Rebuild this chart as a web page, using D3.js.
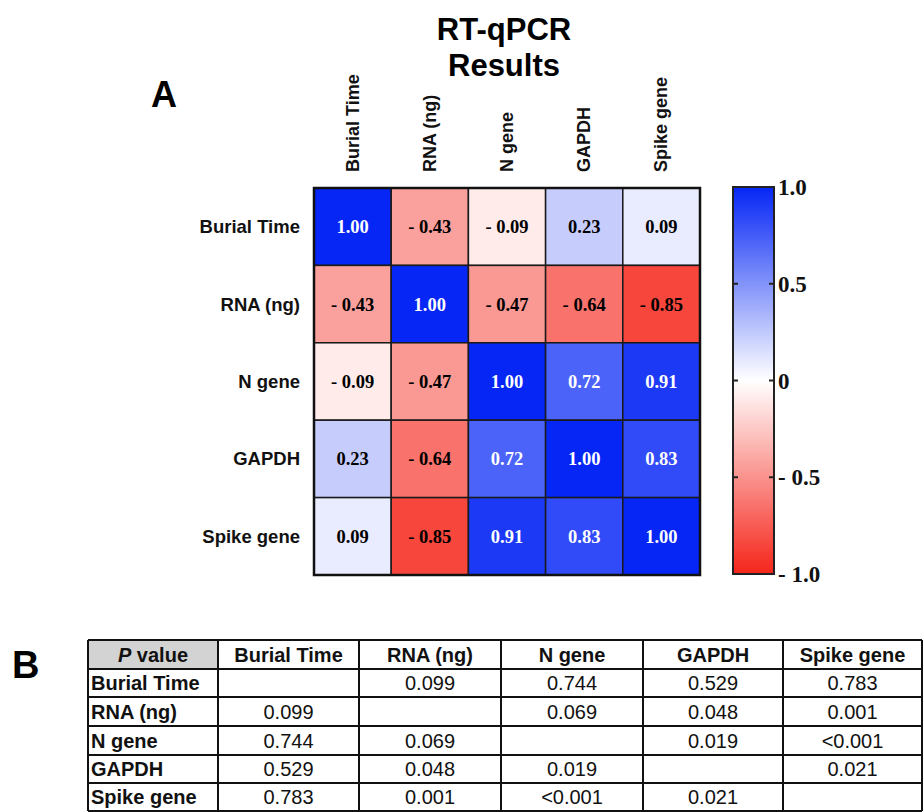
<!DOCTYPE html>
<html>
<head>
<meta charset="utf-8">
<script src="https://cdn.jsdelivr.net/npm/d3@7"></script>
<style>
  html, body { margin: 0; padding: 0; background: #fff; }
  svg { display: block; }
</style>
</head>
<body>
<svg id="chart" width="924" height="812"></svg>
<script>
// ---- data ----
const variables = ["Burial Time", "RNA (ng)", "N gene", "GAPDH", "Spike gene"];
const corrBurial = [1.00, -0.43, -0.09, 0.23, 0.09];
const corrRNA    = [-0.43, 1.00, -0.47, -0.64, -0.85];
const corrNgene  = [-0.09, -0.47, 1.00, 0.72, 0.91];
const corrGAPDH  = [0.23, -0.64, 0.72, 1.00, 0.83];
const corrSpike  = [0.09, -0.85, 0.91, 0.83, 1.00];
const corrMatrix = [corrBurial, corrRNA, corrNgene, corrGAPDH, corrSpike];
const colorTicks = [1.0, 0.5, 0, -0.5, -1.0];
const colorTickLabels = ["1.0", "0.5", "0", "- 0.5", "- 1.0"];
const pHeader = ["P value", "Burial Time", "RNA (ng)", "N gene", "GAPDH", "Spike gene"];
const pBurial = ["", "0.099", "0.744", "0.529", "0.783"];
const pRNA    = ["0.099", "", "0.069", "0.048", "0.001"];
const pNgene  = ["0.744", "0.069", "", "0.019", "<0.001"];
const pGAPDH  = ["0.529", "0.048", "0.019", "", "0.021"];
const pSpike  = ["0.783", "0.001", "<0.001", "0.021", ""];
const pRows = [pBurial, pRNA, pNgene, pGAPDH, pSpike];

// ---- layout ----
const svg = d3.select("#chart");
const sans = "'Liberation Sans', Arial, sans-serif";
const serif = "'Liberation Serif', 'Times New Roman', serif";

const grid = { x0: 314, x1: 700, y0: 188, y1: 575 };
const x = d3.scaleBand().domain(variables).range([grid.x0, grid.x1]);
const y = d3.scaleBand().domain(variables).range([grid.y0, grid.y1]);
const color = d3.scaleLinear().domain([-1, 0, 1]).range(["#f5251a", "#ffffff", "#0526f5"]);

// Titles
svg.append("text").attr("x", 504).attr("y", 40).attr("text-anchor", "middle")
  .attr("font-family", sans).attr("font-weight", "bold").attr("font-size", 31).text("RT-qPCR");
svg.append("text").attr("x", 504).attr("y", 76).attr("text-anchor", "middle")
  .attr("font-family", sans).attr("font-weight", "bold").attr("font-size", 31).text("Results");
svg.append("text").attr("x", 151).attr("y", 107)
  .attr("font-family", sans).attr("font-weight", "bold").attr("font-size", 36).text("A");
svg.append("text").attr("x", 12).attr("y", 678)
  .attr("font-family", sans).attr("font-weight", "bold").attr("font-size", 38).text("B");

// cells
const cells = [];
corrMatrix.forEach((row, i) => row.forEach((v, j) => cells.push({ r: variables[i], c: variables[j], v })));

const g = svg.append("g");
g.selectAll("rect.cell").data(cells).enter().append("rect")
  .attr("class", "cell")
  .attr("x", d => x(d.c)).attr("y", d => y(d.r))
  .attr("width", x.bandwidth()).attr("height", y.bandwidth())
  .attr("fill", d => color(d.v))
  .attr("stroke", "#1a1a1a").attr("stroke-width", 1.5);

const fmt = v => v < 0 ? "- " + Math.abs(v).toFixed(2) : v.toFixed(2);
g.selectAll("text.val").data(cells).enter().append("text")
  .attr("x", d => x(d.c) + x.bandwidth() / 2)
  .attr("y", d => y(d.r) + y.bandwidth() / 2)
  .attr("dy", "0.35em").attr("text-anchor", "middle")
  .attr("font-family", serif).attr("font-weight", "bold").attr("font-size", 18.5)
  .attr("fill", d => d.v > 0.5 ? "#ffffff" : "#000000")
  .text(d => fmt(d.v));

g.append("rect").attr("x", grid.x0).attr("y", grid.y0)
  .attr("width", grid.x1 - grid.x0).attr("height", grid.y1 - grid.y0)
  .attr("fill", "none").attr("stroke", "#111").attr("stroke-width", 2.5);

// row labels
svg.selectAll("text.rowlab").data(variables).enter().append("text")
  .attr("x", 300).attr("y", d => y(d) + y.bandwidth() / 2).attr("dy", "0.35em")
  .attr("text-anchor", "end").attr("font-family", sans).attr("font-weight", "bold")
  .attr("font-size", 18.5).attr("fill", "#111").text(d => d);

// column labels
svg.selectAll("text.collab").data(variables).enter().append("text")
  .attr("transform", d => `translate(${x(d) + x.bandwidth() / 2 + 6},172) rotate(-90)`)
  .attr("text-anchor", "start").attr("font-family", sans).attr("font-weight", "bold")
  .attr("font-size", 18).attr("fill", "#111").text(d => d);

// colorbar
const cb = { x0: 733, x1: 774, y0: 187, y1: 574 };
const cy = d3.scaleLinear().domain([-1, 1]).range([cb.y1, cb.y0]);
const defs = svg.append("defs");
const grad = defs.append("linearGradient").attr("id", "cbgrad")
  .attr("x1", 0).attr("y1", 1).attr("x2", 0).attr("y2", 0);
d3.range(-1, 1.001, 0.1).forEach(t => {
  grad.append("stop").attr("offset", (t + 1) / 2).attr("stop-color", color(t));
});
svg.append("rect").attr("x", cb.x0).attr("y", cb.y0)
  .attr("width", cb.x1 - cb.x0).attr("height", cb.y1 - cb.y0)
  .attr("fill", "url(#cbgrad)").attr("stroke", "#222").attr("stroke-width", 2);
svg.selectAll("line.tl").data(colorTicks).enter().append("line")
  .attr("x1", cb.x0).attr("x2", cb.x0 + 5).attr("y1", d => cy(d)).attr("y2", d => cy(d))
  .attr("stroke", "#222").attr("stroke-width", 2);
svg.selectAll("line.tr").data(colorTicks).enter().append("line")
  .attr("x1", cb.x1 - 5).attr("x2", cb.x1).attr("y1", d => cy(d)).attr("y2", d => cy(d))
  .attr("stroke", "#222").attr("stroke-width", 2);
svg.selectAll("text.cbl").data(colorTicks).enter().append("text")
  .attr("x", 778).attr("y", d => cy(d)).attr("dy", "0.35em")
  .attr("font-family", serif).attr("font-weight", "bold").attr("font-size", 23)
  .attr("fill", "#111").text((d, i) => colorTickLabels[i]);

// ---- P value table ----
const colEdges = [88, 218, 359, 501, 643, 783, 922];
const rowEdges = [640, 669, 697, 726, 755, 783, 811];
const t = svg.append("g");
t.append("rect").attr("x", colEdges[0]).attr("y", rowEdges[0])
  .attr("width", colEdges[1] - colEdges[0]).attr("height", rowEdges[1] - rowEdges[0])
  .attr("fill", "#d3d3d3");

// header
const hdr = t.append("text").attr("x", (colEdges[0] + colEdges[1]) / 2)
  .attr("y", (rowEdges[0] + rowEdges[1]) / 2).attr("dy", "0.36em").attr("text-anchor", "middle")
  .attr("font-family", sans).attr("font-weight", "bold").attr("font-size", 20).attr("fill", "#111");
hdr.append("tspan").attr("font-style", "italic").text(pHeader[0].split(" ")[0]);
hdr.append("tspan").text(" " + pHeader[0].split(" ").slice(1).join(" "));

t.selectAll("text.h").data(pHeader.slice(1)).enter().append("text")
  .attr("x", (d, i) => (colEdges[i + 1] + colEdges[i + 2]) / 2)
  .attr("y", (rowEdges[0] + rowEdges[1]) / 2).attr("dy", "0.36em").attr("text-anchor", "middle")
  .attr("font-family", sans).attr("font-weight", "bold").attr("font-size", 20).attr("fill", "#111")
  .text(d => d);

// row labels
t.selectAll("text.rl").data(variables).enter().append("text")
  .attr("x", colEdges[0] + 3)
  .attr("y", (d, i) => (rowEdges[i + 1] + rowEdges[i + 2]) / 2).attr("dy", "0.36em")
  .attr("font-family", sans).attr("font-weight", "bold").attr("font-size", 20).attr("fill", "#111")
  .text(d => d);

// values
const pCells = [];
pRows.forEach((row, i) => row.forEach((v, j) => pCells.push({ i, j, v })));
t.selectAll("text.pv").data(pCells).enter().append("text")
  .attr("x", d => (colEdges[d.j + 1] + colEdges[d.j + 2]) / 2)
  .attr("y", d => (rowEdges[d.i + 1] + rowEdges[d.i + 2]) / 2).attr("dy", "0.36em")
  .attr("text-anchor", "middle").attr("font-family", sans).attr("font-size", 20).attr("fill", "#111")
  .text(d => d.v);

// grid lines
t.selectAll("line.hz").data(rowEdges).enter().append("line")
  .attr("x1", colEdges[0]).attr("x2", colEdges[colEdges.length - 1])
  .attr("y1", d => d).attr("y2", d => d).attr("stroke", "#111").attr("stroke-width", 2);
t.selectAll("line.vt").data(colEdges).enter().append("line")
  .attr("y1", rowEdges[0]).attr("y2", rowEdges[rowEdges.length - 1])
  .attr("x1", d => d).attr("x2", d => d).attr("stroke", "#111").attr("stroke-width", 2);
</script>
</body>
</html>
